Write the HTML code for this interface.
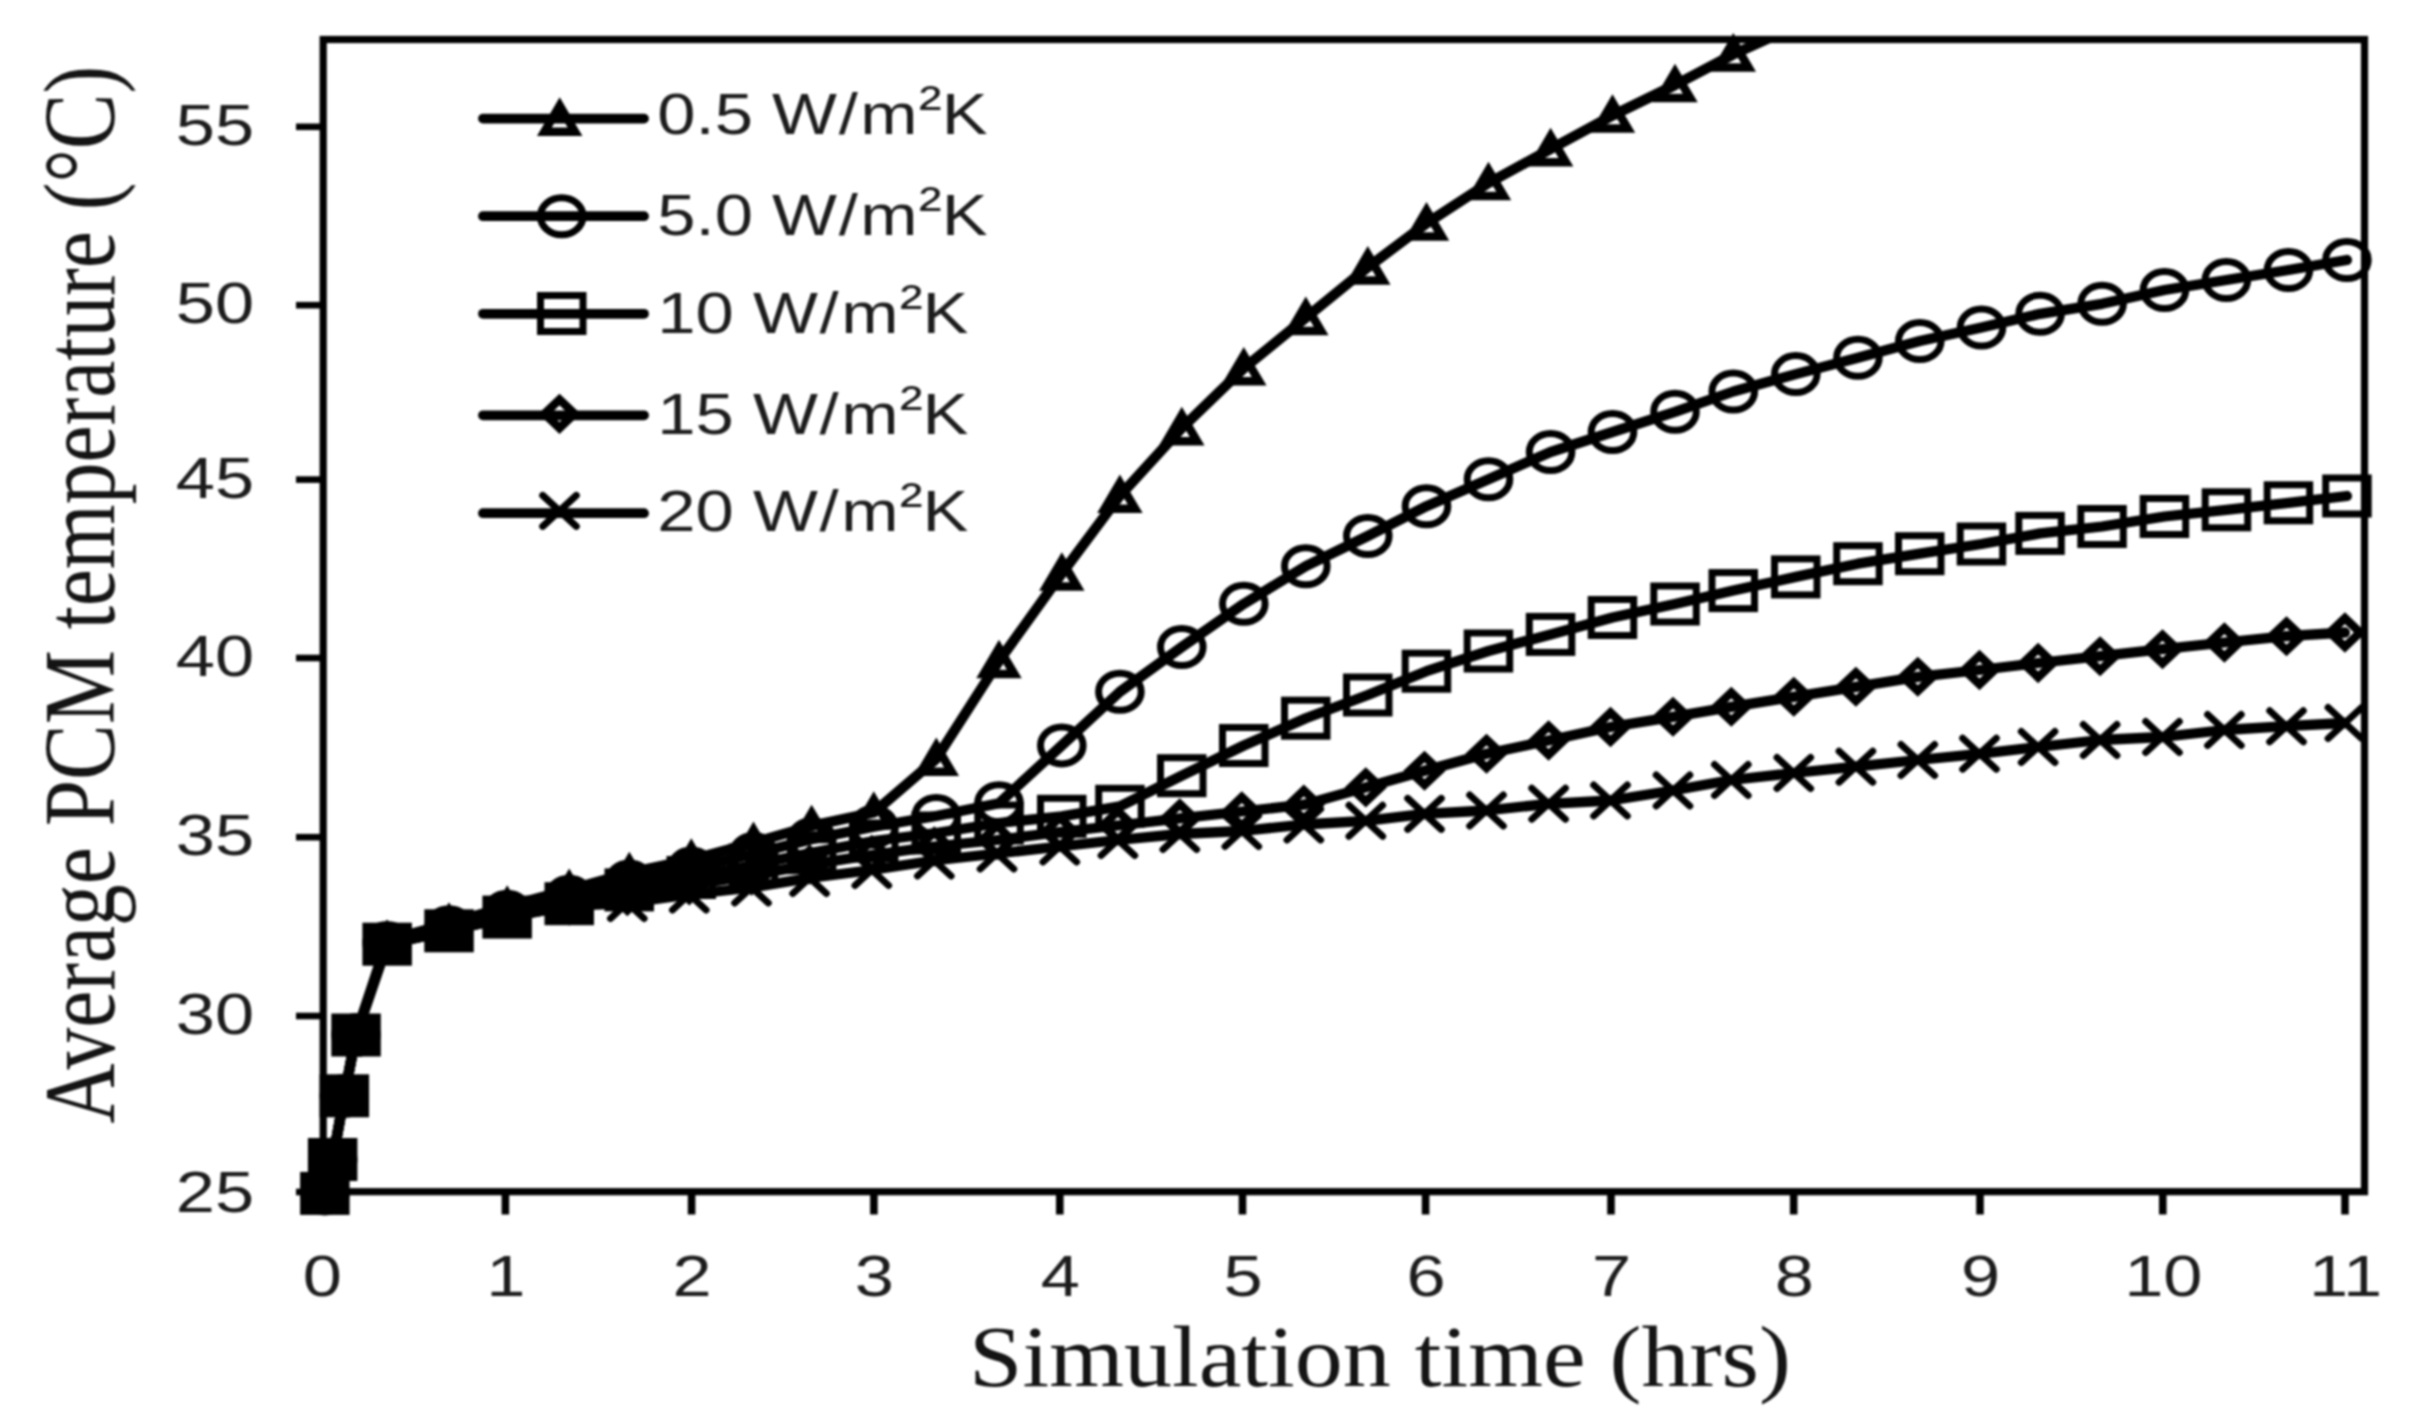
<!DOCTYPE html>
<html lang="en">
<head>
<meta charset="utf-8">
<title>Average PCM temperature vs simulation time</title>
<style>
html,body{margin:0;padding:0;background:#fff;}
body{width:2413px;height:1423px;overflow:hidden;}
svg{display:block;filter:blur(0.9px);}
.ln{fill:none;stroke:#000;stroke-width:10.3;stroke-linejoin:round;stroke-linecap:round;}
.mk{fill:none;stroke:#000;stroke-linejoin:miter;}
.mx{fill:none;stroke:#000;stroke-width:7;stroke-linecap:round;}
.ax{fill:none;stroke:#000;stroke-width:7.2;}
.tk{stroke:#000;stroke-width:7;}
.num{font-family:"Liberation Sans","DejaVu Sans",sans-serif;font-size:56.8px;fill:#1c1c1c;}
.ttl{font-family:"Liberation Serif","DejaVu Serif",serif;fill:#141414;}
</style>
</head>
<body>
<svg width="2413" height="1423" viewBox="0 0 2413 1423">
<defs><clipPath id="pc"><rect x="323" y="39.5" width="2042" height="1160"/></clipPath></defs>
<rect x="0" y="0" width="2413" height="1423" fill="#fff"/>

<rect x="323.2" y="39.5" width="2041.3" height="1152.2" class="ax"/>
<line x1="296" y1="126.8" x2="323" y2="126.8" class="tk" style="stroke-width:6.6"/>
<line x1="296" y1="305.2" x2="323" y2="305.2" class="tk" style="stroke-width:6.6"/>
<line x1="296" y1="479.6" x2="323" y2="479.6" class="tk" style="stroke-width:6.6"/>
<line x1="296" y1="658" x2="323" y2="658" class="tk" style="stroke-width:6.6"/>
<line x1="296" y1="837.2" x2="323" y2="837.2" class="tk" style="stroke-width:6.6"/>
<line x1="296" y1="1016" x2="323" y2="1016" class="tk" style="stroke-width:6.6"/>
<line x1="296" y1="1192" x2="323" y2="1192" class="tk" style="stroke-width:6.6"/>
<line x1="505.4" y1="1192" x2="505.4" y2="1214.5" class="tk" style="stroke-width:7.6"/>
<line x1="691.6" y1="1192" x2="691.6" y2="1214.5" class="tk" style="stroke-width:7.6"/>
<line x1="873.9" y1="1192" x2="873.9" y2="1214.5" class="tk" style="stroke-width:7.6"/>
<line x1="1059.8" y1="1192" x2="1059.8" y2="1214.5" class="tk" style="stroke-width:7.6"/>
<line x1="1242.5" y1="1192" x2="1242.5" y2="1214.5" class="tk" style="stroke-width:7.6"/>
<line x1="1425.6" y1="1192" x2="1425.6" y2="1214.5" class="tk" style="stroke-width:7.6"/>
<line x1="1611" y1="1192" x2="1611" y2="1214.5" class="tk" style="stroke-width:7.6"/>
<line x1="1793.7" y1="1192" x2="1793.7" y2="1214.5" class="tk" style="stroke-width:7.6"/>
<line x1="1980" y1="1192" x2="1980" y2="1214.5" class="tk" style="stroke-width:7.6"/>
<line x1="2162.8" y1="1192" x2="2162.8" y2="1214.5" class="tk" style="stroke-width:7.6"/>
<line x1="2345" y1="1192" x2="2345" y2="1214.5" class="tk" style="stroke-width:7.6"/>
<text class="num" text-anchor="end" transform="translate(254.2,144.6) scale(1.24,1)">55</text>
<text class="num" text-anchor="end" transform="translate(254.2,323.2) scale(1.24,1)">50</text>
<text class="num" text-anchor="end" transform="translate(254.2,497.6) scale(1.24,1)">45</text>
<text class="num" text-anchor="end" transform="translate(254.2,676.3) scale(1.24,1)">40</text>
<text class="num" text-anchor="end" transform="translate(254.2,855.4) scale(1.24,1)">35</text>
<text class="num" text-anchor="end" transform="translate(254.2,1034.2) scale(1.24,1)">30</text>
<text class="num" text-anchor="end" transform="translate(254.2,1212.0) scale(1.24,1)">25</text>
<text class="num" text-anchor="middle" transform="translate(322.3,1296) scale(1.24,1)">0</text>
<text class="num" text-anchor="middle" transform="translate(505.9,1296) scale(1.24,1)">1</text>
<text class="num" text-anchor="middle" transform="translate(692.1,1296) scale(1.24,1)">2</text>
<text class="num" text-anchor="middle" transform="translate(874.4,1296) scale(1.24,1)">3</text>
<text class="num" text-anchor="middle" transform="translate(1060.3,1296) scale(1.24,1)">4</text>
<text class="num" text-anchor="middle" transform="translate(1243.0,1296) scale(1.24,1)">5</text>
<text class="num" text-anchor="middle" transform="translate(1426.1,1296) scale(1.24,1)">6</text>
<text class="num" text-anchor="middle" transform="translate(1611.5,1296) scale(1.24,1)">7</text>
<text class="num" text-anchor="middle" transform="translate(1794.2,1296) scale(1.24,1)">8</text>
<text class="num" text-anchor="middle" transform="translate(1980.5,1296) scale(1.24,1)">9</text>
<text class="num" text-anchor="middle" transform="translate(2163.3,1296) scale(1.24,1)">10</text>
<text class="num" text-anchor="middle" transform="translate(2345.5,1296) scale(1.24,1)">11</text>
<text class="ttl" font-size="86.5" text-anchor="middle" transform="translate(1380.0,1386) scale(1.111,1)">Simulation time (hrs)</text>
<text class="ttl" font-size="83.4" text-anchor="middle" transform="translate(113.7,594.6) rotate(-90) scale(1,1.225)">Average PCM temperature (°C)</text>
<g id="s1"><polyline points="324.8,1193.4 332.7,1159.5 344.3,1095.8 356.0,1035.0 387.1,940.5 449.0,923.5 507.2,906.5 569.2,889.7 629.3,872.9 691.3,859.6 753.5,842.7 811.6,825.9 873.8,812.5 936.3,758.8 999.0,661.0 1061.8,573.4 1119.9,495.7 1181.8,428.1 1243.8,368.2 1305.8,317.8 1367.8,267.3 1426.5,223.4 1488.5,183.0 1550.6,149.1 1612.5,115.5 1675.0,85.0 1733.3,54.4 1795.8,26.0" class="ln" clip-path="url(#pc)"/>
<polygon points="324.8,1180.5 340.1,1206.5 309.5,1206.5" class="mk" stroke-width="8.5"/>
<polygon points="332.7,1146.6 348.0,1172.5 317.4,1172.5" class="mk" stroke-width="8.5"/>
<polygon points="344.3,1082.9 359.6,1108.8 329.0,1108.8" class="mk" stroke-width="8.5"/>
<polygon points="356.0,1022.1 371.3,1048.0 340.7,1048.0" class="mk" stroke-width="8.5"/>
<polygon points="387.1,927.6 402.4,953.5 371.8,953.5" class="mk" stroke-width="8.5"/>
<polygon points="449.0,910.6 464.3,936.5 433.7,936.5" class="mk" stroke-width="8.5"/>
<polygon points="507.2,893.6 522.5,919.5 491.9,919.5" class="mk" stroke-width="8.5"/>
<polygon points="569.2,876.8 584.5,902.8 553.9,902.8" class="mk" stroke-width="8.5"/>
<polygon points="629.3,860.0 644.6,885.9 614.0,885.9" class="mk" stroke-width="8.5"/>
<polygon points="691.3,846.7 706.6,872.6 676.0,872.6" class="mk" stroke-width="8.5"/>
<polygon points="753.5,829.8 768.8,855.8 738.2,855.8" class="mk" stroke-width="8.5"/>
<polygon points="811.6,813.0 826.9,838.9 796.3,838.9" class="mk" stroke-width="8.5"/>
<polygon points="873.8,799.6 889.1,825.5 858.5,825.5" class="mk" stroke-width="8.5"/>
<polygon points="936.3,745.9 951.6,771.8 921.0,771.8" class="mk" stroke-width="8.5"/>
<polygon points="999.0,648.1 1014.3,674.0 983.7,674.0" class="mk" stroke-width="8.5"/>
<polygon points="1061.8,560.5 1077.1,586.4 1046.5,586.4" class="mk" stroke-width="8.5"/>
<polygon points="1119.9,482.8 1135.2,508.8 1104.6,508.8" class="mk" stroke-width="8.5"/>
<polygon points="1181.8,415.2 1197.1,441.2 1166.5,441.2" class="mk" stroke-width="8.5"/>
<polygon points="1243.8,355.3 1259.1,381.2 1228.5,381.2" class="mk" stroke-width="8.5"/>
<polygon points="1305.8,304.9 1321.1,330.9 1290.5,330.9" class="mk" stroke-width="8.5"/>
<polygon points="1367.8,254.4 1383.1,280.4 1352.5,280.4" class="mk" stroke-width="8.5"/>
<polygon points="1426.5,210.5 1441.8,236.5 1411.2,236.5" class="mk" stroke-width="8.5"/>
<polygon points="1488.5,170.1 1503.8,196.1 1473.2,196.1" class="mk" stroke-width="8.5"/>
<polygon points="1550.6,136.2 1565.9,162.2 1535.3,162.2" class="mk" stroke-width="8.5"/>
<polygon points="1612.5,102.6 1627.8,128.6 1597.2,128.6" class="mk" stroke-width="8.5"/>
<polygon points="1675.0,72.1 1690.3,98.0 1659.7,98.0" class="mk" stroke-width="8.5"/>
<polygon points="1733.3,41.5 1748.6,67.5 1718.0,67.5" class="mk" stroke-width="8.5"/></g>
<g id="s2"><polyline points="324.8,1193.4 332.7,1159.5 344.3,1095.8 356.0,1035.0 387.1,943.0 449.0,927.2 507.2,911.8 569.2,896.7 629.3,881.4 691.3,868.6 753.5,853.9 811.6,839.3 873.8,826.8 936.3,816.0 999.0,803.2 1061.8,745.4 1119.9,691.7 1181.8,647.0 1243.8,603.8 1305.8,566.2 1367.8,536.0 1426.5,506.2 1488.5,479.2 1550.6,452.0 1612.5,432.0 1675.0,411.8 1733.3,391.5 1795.8,374.1 1857.9,357.7 1919.8,341.0 1981.5,327.5 2040.1,313.8 2102.1,303.8 2164.5,290.0 2226.4,280.0 2288.5,270.0 2346.9,260.0" class="ln"/>
<ellipse cx="324.8" cy="1193.4" rx="21.3" ry="18.5" class="mk" stroke-width="7"/>
<ellipse cx="332.7" cy="1159.5" rx="21.3" ry="18.5" class="mk" stroke-width="7"/>
<ellipse cx="344.3" cy="1095.8" rx="21.3" ry="18.5" class="mk" stroke-width="7"/>
<ellipse cx="356.0" cy="1035.0" rx="21.3" ry="18.5" class="mk" stroke-width="7"/>
<ellipse cx="387.1" cy="943.0" rx="21.3" ry="18.5" class="mk" stroke-width="7"/>
<ellipse cx="449.0" cy="927.2" rx="21.3" ry="18.5" class="mk" stroke-width="7"/>
<ellipse cx="507.2" cy="911.8" rx="21.3" ry="18.5" class="mk" stroke-width="7"/>
<ellipse cx="569.2" cy="896.7" rx="21.3" ry="18.5" class="mk" stroke-width="7"/>
<ellipse cx="629.3" cy="881.4" rx="21.3" ry="18.5" class="mk" stroke-width="7"/>
<ellipse cx="691.3" cy="868.6" rx="21.3" ry="18.5" class="mk" stroke-width="7"/>
<ellipse cx="753.5" cy="853.9" rx="21.3" ry="18.5" class="mk" stroke-width="7"/>
<ellipse cx="811.6" cy="839.3" rx="21.3" ry="18.5" class="mk" stroke-width="7"/>
<ellipse cx="873.8" cy="826.8" rx="21.3" ry="18.5" class="mk" stroke-width="7"/>
<ellipse cx="936.3" cy="816.0" rx="21.3" ry="18.5" class="mk" stroke-width="7"/>
<ellipse cx="999.0" cy="803.2" rx="21.3" ry="18.5" class="mk" stroke-width="7"/>
<ellipse cx="1061.8" cy="745.4" rx="21.3" ry="18.5" class="mk" stroke-width="7"/>
<ellipse cx="1119.9" cy="691.7" rx="21.3" ry="18.5" class="mk" stroke-width="7"/>
<ellipse cx="1181.8" cy="647.0" rx="21.3" ry="18.5" class="mk" stroke-width="7"/>
<ellipse cx="1243.8" cy="603.8" rx="21.3" ry="18.5" class="mk" stroke-width="7"/>
<ellipse cx="1305.8" cy="566.2" rx="21.3" ry="18.5" class="mk" stroke-width="7"/>
<ellipse cx="1367.8" cy="536.0" rx="21.3" ry="18.5" class="mk" stroke-width="7"/>
<ellipse cx="1426.5" cy="506.2" rx="21.3" ry="18.5" class="mk" stroke-width="7"/>
<ellipse cx="1488.5" cy="479.2" rx="21.3" ry="18.5" class="mk" stroke-width="7"/>
<ellipse cx="1550.6" cy="452.0" rx="21.3" ry="18.5" class="mk" stroke-width="7"/>
<ellipse cx="1612.5" cy="432.0" rx="21.3" ry="18.5" class="mk" stroke-width="7"/>
<ellipse cx="1675.0" cy="411.8" rx="21.3" ry="18.5" class="mk" stroke-width="7"/>
<ellipse cx="1733.3" cy="391.5" rx="21.3" ry="18.5" class="mk" stroke-width="7"/>
<ellipse cx="1795.8" cy="374.1" rx="21.3" ry="18.5" class="mk" stroke-width="7"/>
<ellipse cx="1857.9" cy="357.7" rx="21.3" ry="18.5" class="mk" stroke-width="7"/>
<ellipse cx="1919.8" cy="341.0" rx="21.3" ry="18.5" class="mk" stroke-width="7"/>
<ellipse cx="1981.5" cy="327.5" rx="21.3" ry="18.5" class="mk" stroke-width="7"/>
<ellipse cx="2040.1" cy="313.8" rx="21.3" ry="18.5" class="mk" stroke-width="7"/>
<ellipse cx="2102.1" cy="303.8" rx="21.3" ry="18.5" class="mk" stroke-width="7"/>
<ellipse cx="2164.5" cy="290.0" rx="21.3" ry="18.5" class="mk" stroke-width="7"/>
<ellipse cx="2226.4" cy="280.0" rx="21.3" ry="18.5" class="mk" stroke-width="7"/>
<ellipse cx="2288.5" cy="270.0" rx="21.3" ry="18.5" class="mk" stroke-width="7"/>
<ellipse cx="2346.9" cy="260.0" rx="21.3" ry="18.5" class="mk" stroke-width="7"/></g>
<g id="s3"><polyline points="324.8,1193.4 332.7,1159.5 344.3,1095.8 356.0,1035.0 387.1,944.2 449.0,930.8 507.2,917.1 569.2,903.7 629.3,889.9 691.3,877.5 753.5,865.0 811.6,852.7 873.8,841.0 936.3,833.0 999.0,823.0 1061.8,816.3 1119.9,806.3 1181.8,775.7 1243.8,745.5 1305.8,718.2 1367.8,695.0 1426.5,671.2 1488.5,651.0 1550.6,634.4 1612.5,617.5 1675.0,604.0 1733.3,590.6 1795.8,576.9 1857.9,563.7 1919.8,553.7 1981.5,544.0 2040.1,533.4 2102.1,526.5 2164.5,516.5 2226.4,509.8 2288.5,502.8 2346.9,496.0" class="ln"/>
<rect x="303.6" y="1175.4" width="42.5" height="36" class="mk" stroke-width="7" style="fill:#000"/>
<rect x="311.4" y="1141.5" width="42.5" height="36" class="mk" stroke-width="7" style="fill:#000"/>
<rect x="323.1" y="1077.8" width="42.5" height="36" class="mk" stroke-width="7" style="fill:#000"/>
<rect x="334.8" y="1017.0" width="42.5" height="36" class="mk" stroke-width="7" style="fill:#000"/>
<rect x="365.9" y="926.2" width="42.5" height="36" class="mk" stroke-width="7" style="fill:#000"/>
<rect x="427.8" y="912.8" width="42.5" height="36" class="mk" stroke-width="7" style="fill:#000"/>
<rect x="485.9" y="899.1" width="42.5" height="36" class="mk" stroke-width="7" style="fill:#000"/>
<rect x="548.0" y="885.7" width="42.5" height="36" class="mk" stroke-width="7" style="fill:#000"/>
<rect x="608.0" y="871.9" width="42.5" height="36" class="mk" stroke-width="7"/>
<rect x="670.0" y="859.5" width="42.5" height="36" class="mk" stroke-width="7"/>
<rect x="732.2" y="847.0" width="42.5" height="36" class="mk" stroke-width="7"/>
<rect x="790.4" y="834.7" width="42.5" height="36" class="mk" stroke-width="7"/>
<rect x="852.5" y="823.0" width="42.5" height="36" class="mk" stroke-width="7"/>
<rect x="915.0" y="815.0" width="42.5" height="36" class="mk" stroke-width="7"/>
<rect x="977.8" y="805.0" width="42.5" height="36" class="mk" stroke-width="7"/>
<rect x="1040.5" y="798.3" width="42.5" height="36" class="mk" stroke-width="7"/>
<rect x="1098.7" y="788.3" width="42.5" height="36" class="mk" stroke-width="7"/>
<rect x="1160.5" y="757.7" width="42.5" height="36" class="mk" stroke-width="7"/>
<rect x="1222.5" y="727.5" width="42.5" height="36" class="mk" stroke-width="7"/>
<rect x="1284.5" y="700.2" width="42.5" height="36" class="mk" stroke-width="7"/>
<rect x="1346.5" y="677.0" width="42.5" height="36" class="mk" stroke-width="7"/>
<rect x="1405.2" y="653.2" width="42.5" height="36" class="mk" stroke-width="7"/>
<rect x="1467.2" y="633.0" width="42.5" height="36" class="mk" stroke-width="7"/>
<rect x="1529.3" y="616.4" width="42.5" height="36" class="mk" stroke-width="7"/>
<rect x="1591.2" y="599.5" width="42.5" height="36" class="mk" stroke-width="7"/>
<rect x="1653.8" y="586.0" width="42.5" height="36" class="mk" stroke-width="7"/>
<rect x="1712.0" y="572.6" width="42.5" height="36" class="mk" stroke-width="7"/>
<rect x="1774.5" y="558.9" width="42.5" height="36" class="mk" stroke-width="7"/>
<rect x="1836.7" y="545.7" width="42.5" height="36" class="mk" stroke-width="7"/>
<rect x="1898.5" y="535.7" width="42.5" height="36" class="mk" stroke-width="7"/>
<rect x="1960.2" y="526.0" width="42.5" height="36" class="mk" stroke-width="7"/>
<rect x="2018.8" y="515.4" width="42.5" height="36" class="mk" stroke-width="7"/>
<rect x="2080.8" y="508.5" width="42.5" height="36" class="mk" stroke-width="7"/>
<rect x="2143.2" y="498.5" width="42.5" height="36" class="mk" stroke-width="7"/>
<rect x="2205.2" y="491.8" width="42.5" height="36" class="mk" stroke-width="7"/>
<rect x="2267.2" y="484.8" width="42.5" height="36" class="mk" stroke-width="7"/>
<rect x="2325.7" y="478.0" width="42.5" height="36" class="mk" stroke-width="7"/></g>
<g id="s4"><polyline points="324.8,1193.4 332.7,1159.5 344.3,1095.8 356.0,1035.0 387.1,944.2 449.0,930.8 507.2,917.2 569.2,905.6 627.3,896.2 689.3,885.3 751.5,875.5 809.6,864.6 871.8,855.0 934.3,846.5 997.0,840.0 1059.8,832.0 1117.9,825.5 1179.8,818.4 1241.8,811.5 1303.8,804.7 1365.8,787.4 1424.5,770.8 1486.5,753.8 1548.6,740.5 1610.5,727.0 1673.0,716.8 1731.3,706.8 1793.8,696.8 1855.9,686.8 1917.8,676.8 1979.5,670.0 2038.1,663.0 2100.1,656.2 2162.5,649.2 2224.4,642.5 2286.5,636.2 2344.9,632.5" class="ln"/>
<polygon points="324.8,1179.1 339.8,1193.4 324.8,1207.7 309.8,1193.4" class="mk" stroke-width="8.5"/>
<polygon points="332.7,1145.2 347.7,1159.5 332.7,1173.8 317.7,1159.5" class="mk" stroke-width="8.5"/>
<polygon points="344.3,1081.5 359.3,1095.8 344.3,1110.1 329.3,1095.8" class="mk" stroke-width="8.5"/>
<polygon points="356.0,1020.7 371.0,1035.0 356.0,1049.3 341.0,1035.0" class="mk" stroke-width="8.5"/>
<polygon points="387.1,929.9 402.1,944.2 387.1,958.5 372.1,944.2" class="mk" stroke-width="8.5"/>
<polygon points="449.0,916.5 464.0,930.8 449.0,945.1 434.0,930.8" class="mk" stroke-width="8.5"/>
<polygon points="507.2,902.9 522.2,917.2 507.2,931.5 492.2,917.2" class="mk" stroke-width="8.5"/>
<polygon points="569.2,891.3 584.2,905.6 569.2,919.9 554.2,905.6" class="mk" stroke-width="8.5"/>
<polygon points="627.3,881.9 642.3,896.2 627.3,910.5 612.3,896.2" class="mk" stroke-width="8.5"/>
<polygon points="689.3,871.0 704.3,885.3 689.3,899.6 674.3,885.3" class="mk" stroke-width="8.5"/>
<polygon points="751.5,861.2 766.5,875.5 751.5,889.8 736.5,875.5" class="mk" stroke-width="8.5"/>
<polygon points="809.6,850.3 824.6,864.6 809.6,878.9 794.6,864.6" class="mk" stroke-width="8.5"/>
<polygon points="871.8,840.7 886.8,855.0 871.8,869.3 856.8,855.0" class="mk" stroke-width="8.5"/>
<polygon points="934.3,832.2 949.3,846.5 934.3,860.8 919.3,846.5" class="mk" stroke-width="8.5"/>
<polygon points="997.0,825.7 1012.0,840.0 997.0,854.3 982.0,840.0" class="mk" stroke-width="8.5"/>
<polygon points="1059.8,817.7 1074.8,832.0 1059.8,846.3 1044.8,832.0" class="mk" stroke-width="8.5"/>
<polygon points="1117.9,811.2 1132.9,825.5 1117.9,839.8 1102.9,825.5" class="mk" stroke-width="8.5"/>
<polygon points="1179.8,804.1 1194.8,818.4 1179.8,832.7 1164.8,818.4" class="mk" stroke-width="8.5"/>
<polygon points="1241.8,797.2 1256.8,811.5 1241.8,825.8 1226.8,811.5" class="mk" stroke-width="8.5"/>
<polygon points="1303.8,790.4 1318.8,804.7 1303.8,819.0 1288.8,804.7" class="mk" stroke-width="8.5"/>
<polygon points="1365.8,773.1 1380.8,787.4 1365.8,801.7 1350.8,787.4" class="mk" stroke-width="8.5"/>
<polygon points="1424.5,756.5 1439.5,770.8 1424.5,785.0 1409.5,770.8" class="mk" stroke-width="8.5"/>
<polygon points="1486.5,739.5 1501.5,753.8 1486.5,768.0 1471.5,753.8" class="mk" stroke-width="8.5"/>
<polygon points="1548.6,726.2 1563.6,740.5 1548.6,754.8 1533.6,740.5" class="mk" stroke-width="8.5"/>
<polygon points="1610.5,712.7 1625.5,727.0 1610.5,741.3 1595.5,727.0" class="mk" stroke-width="8.5"/>
<polygon points="1673.0,702.5 1688.0,716.8 1673.0,731.0 1658.0,716.8" class="mk" stroke-width="8.5"/>
<polygon points="1731.3,692.5 1746.3,706.8 1731.3,721.0 1716.3,706.8" class="mk" stroke-width="8.5"/>
<polygon points="1793.8,682.5 1808.8,696.8 1793.8,711.0 1778.8,696.8" class="mk" stroke-width="8.5"/>
<polygon points="1855.9,672.5 1870.9,686.8 1855.9,701.0 1840.9,686.8" class="mk" stroke-width="8.5"/>
<polygon points="1917.8,662.5 1932.8,676.8 1917.8,691.0 1902.8,676.8" class="mk" stroke-width="8.5"/>
<polygon points="1979.5,655.7 1994.5,670.0 1979.5,684.3 1964.5,670.0" class="mk" stroke-width="8.5"/>
<polygon points="2038.1,648.7 2053.1,663.0 2038.1,677.3 2023.1,663.0" class="mk" stroke-width="8.5"/>
<polygon points="2100.1,642.0 2115.1,656.2 2100.1,670.5 2085.1,656.2" class="mk" stroke-width="8.5"/>
<polygon points="2162.5,635.0 2177.5,649.2 2162.5,663.5 2147.5,649.2" class="mk" stroke-width="8.5"/>
<polygon points="2224.4,628.2 2239.4,642.5 2224.4,656.8 2209.4,642.5" class="mk" stroke-width="8.5"/>
<polygon points="2286.5,622.0 2301.5,636.2 2286.5,650.5 2271.5,636.2" class="mk" stroke-width="8.5"/>
<polygon points="2344.9,618.2 2359.9,632.5 2344.9,646.8 2329.9,632.5" class="mk" stroke-width="8.5"/></g>
<g id="s5"><polyline points="324.8,1193.4 332.7,1159.5 344.3,1095.8 356.0,1035.0 387.1,944.2 449.0,930.8 507.2,917.3 569.2,905.8 627.3,903.0 689.3,894.5 751.5,887.5 809.6,878.0 871.8,870.0 934.3,860.5 997.0,853.5 1059.8,846.5 1117.9,840.0 1179.8,834.0 1241.8,831.0 1303.8,824.5 1365.8,820.8 1424.5,813.9 1486.5,810.5 1548.6,803.8 1610.5,800.5 1673.0,790.5 1731.3,780.0 1793.8,773.0 1855.9,766.7 1917.8,760.0 1979.5,753.8 2038.1,747.0 2100.1,740.0 2162.5,737.0 2224.4,730.0 2286.5,726.2 2344.9,723.0" class="ln"/>
<path d="M308.0,1177.9L341.6,1208.9M308.0,1208.9L341.6,1177.9" class="mx"/>
<path d="M315.9,1144.0L349.5,1175.0M315.9,1175.0L349.5,1144.0" class="mx"/>
<path d="M327.5,1080.3L361.1,1111.3M327.5,1111.3L361.1,1080.3" class="mx"/>
<path d="M339.2,1019.5L372.8,1050.5M339.2,1050.5L372.8,1019.5" class="mx"/>
<path d="M370.3,928.7L403.9,959.7M370.3,959.7L403.9,928.7" class="mx"/>
<path d="M432.2,915.3L465.8,946.3M432.2,946.3L465.8,915.3" class="mx"/>
<path d="M490.4,901.8L524.0,932.8M490.4,932.8L524.0,901.8" class="mx"/>
<path d="M552.4,890.3L586.0,921.3M552.4,921.3L586.0,890.3" class="mx"/>
<path d="M610.5,887.5L644.1,918.5M610.5,918.5L644.1,887.5" class="mx"/>
<path d="M672.5,879.0L706.1,910.0M672.5,910.0L706.1,879.0" class="mx"/>
<path d="M734.7,872.0L768.3,903.0M734.7,903.0L768.3,872.0" class="mx"/>
<path d="M792.8,862.5L826.4,893.5M792.8,893.5L826.4,862.5" class="mx"/>
<path d="M855.0,854.5L888.6,885.5M855.0,885.5L888.6,854.5" class="mx"/>
<path d="M917.5,845.0L951.1,876.0M917.5,876.0L951.1,845.0" class="mx"/>
<path d="M980.2,838.0L1013.8,869.0M980.2,869.0L1013.8,838.0" class="mx"/>
<path d="M1043.0,831.0L1076.6,862.0M1043.0,862.0L1076.6,831.0" class="mx"/>
<path d="M1101.1,824.5L1134.7,855.5M1101.1,855.5L1134.7,824.5" class="mx"/>
<path d="M1163.0,818.5L1196.6,849.5M1163.0,849.5L1196.6,818.5" class="mx"/>
<path d="M1225.0,815.5L1258.6,846.5M1225.0,846.5L1258.6,815.5" class="mx"/>
<path d="M1287.0,809.0L1320.6,840.0M1287.0,840.0L1320.6,809.0" class="mx"/>
<path d="M1349.0,805.3L1382.6,836.3M1349.0,836.3L1382.6,805.3" class="mx"/>
<path d="M1407.7,798.4L1441.3,829.4M1407.7,829.4L1441.3,798.4" class="mx"/>
<path d="M1469.7,795.0L1503.3,826.0M1469.7,826.0L1503.3,795.0" class="mx"/>
<path d="M1531.8,788.2L1565.4,819.2M1531.8,819.2L1565.4,788.2" class="mx"/>
<path d="M1593.7,785.0L1627.3,816.0M1593.7,816.0L1627.3,785.0" class="mx"/>
<path d="M1656.2,775.0L1689.8,806.0M1656.2,806.0L1689.8,775.0" class="mx"/>
<path d="M1714.5,764.5L1748.1,795.5M1714.5,795.5L1748.1,764.5" class="mx"/>
<path d="M1777.0,757.5L1810.6,788.5M1777.0,788.5L1810.6,757.5" class="mx"/>
<path d="M1839.1,751.2L1872.7,782.2M1839.1,782.2L1872.7,751.2" class="mx"/>
<path d="M1901.0,744.5L1934.6,775.5M1901.0,775.5L1934.6,744.5" class="mx"/>
<path d="M1962.7,738.2L1996.3,769.2M1962.7,769.2L1996.3,738.2" class="mx"/>
<path d="M2021.3,731.5L2054.9,762.5M2021.3,762.5L2054.9,731.5" class="mx"/>
<path d="M2083.3,724.5L2116.9,755.5M2083.3,755.5L2116.9,724.5" class="mx"/>
<path d="M2145.7,721.5L2179.3,752.5M2145.7,752.5L2179.3,721.5" class="mx"/>
<path d="M2207.6,714.5L2241.2,745.5M2207.6,745.5L2241.2,714.5" class="mx"/>
<path d="M2269.7,710.8L2303.3,741.8M2269.7,741.8L2303.3,710.8" class="mx"/>
<path d="M2328.1,707.5L2361.7,738.5M2328.1,738.5L2361.7,707.5" class="mx"/></g>
<line x1="483" y1="118.6" x2="644" y2="118.6" class="ln" style="stroke-width:9.8"/>
<polygon points="559.7,105.7 575.0,131.7 544.4,131.7" class="mk" stroke-width="8.5"/>
<text class="num" transform="translate(657.3,133.7) scale(1.211,1)">0.5 W<tspan dx="1.5">/</tspan><tspan dx="2">m</tspan><tspan dy="-8" dx="1">²</tspan><tspan dy="8">K</tspan></text>
<line x1="483" y1="216.2" x2="644" y2="216.2" class="ln" style="stroke-width:9.8"/>
<ellipse cx="561.7" cy="216.2" rx="21.3" ry="18.5" class="mk" stroke-width="7"/>
<text class="num" transform="translate(657.3,234.6) scale(1.211,1)">5.0 W<tspan dx="1.5">/</tspan><tspan dx="2">m</tspan><tspan dy="-8" dx="1">²</tspan><tspan dy="8">K</tspan></text>
<line x1="483" y1="313.8" x2="644" y2="313.8" class="ln" style="stroke-width:9.8"/>
<rect x="540.5" y="295.5" width="42.5" height="36" class="mk" stroke-width="7"/>
<text class="num" transform="translate(657.3,332.7) scale(1.211,1)">10 W<tspan dx="1.5">/</tspan><tspan dx="2">m</tspan><tspan dy="-8" dx="1">²</tspan><tspan dy="8">K</tspan></text>
<line x1="483" y1="415.3" x2="644" y2="415.3" class="ln" style="stroke-width:9.8"/>
<polygon points="559.5,399.5 574.5,413.8 559.5,428.1 544.5,413.8" class="mk" stroke-width="8.5"/>
<text class="num" transform="translate(657.3,434.0) scale(1.211,1)">15 W<tspan dx="1.5">/</tspan><tspan dx="2">m</tspan><tspan dy="-8" dx="1">²</tspan><tspan dy="8">K</tspan></text>
<line x1="483" y1="513.2" x2="644" y2="513.2" class="ln" style="stroke-width:9.8"/>
<path d="M542.7,495.4L576.3,526.4M542.7,526.4L576.3,495.4" class="mx"/>
<text class="num" transform="translate(657.3,531.0) scale(1.211,1)">20 W<tspan dx="1.5">/</tspan><tspan dx="2">m</tspan><tspan dy="-8" dx="1">²</tspan><tspan dy="8">K</tspan></text>
</svg>
</body>
</html>
